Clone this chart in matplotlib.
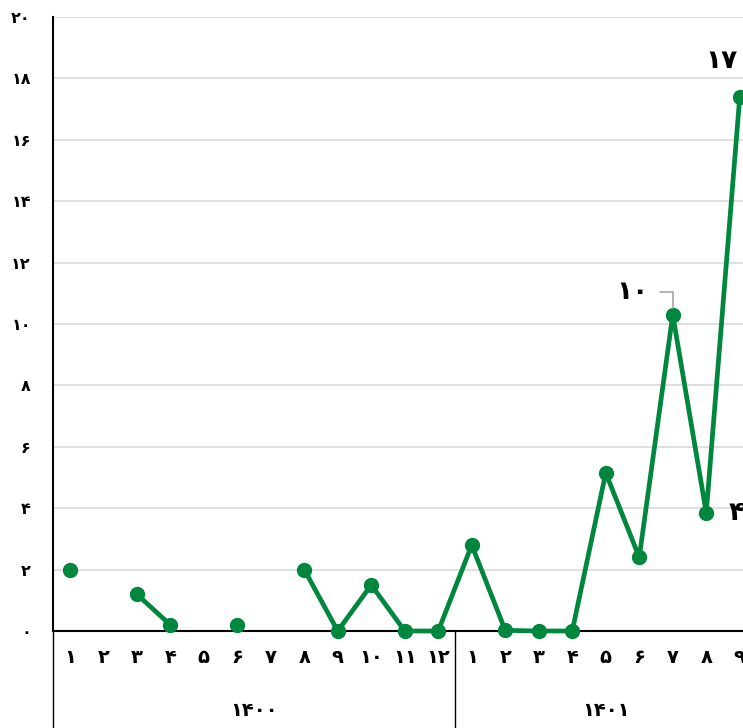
import numpy as np
import matplotlib
matplotlib.use("Agg")
import matplotlib.pyplot as plt

plt.rcParams['font.family'] = ['DejaVu Sans']

# data
months_1400 = ['۱', '۲', '۳', '۴', '۵', '۶', '۷', '۸', '۹', '۱۰', '۱۱', '۱۲']
months_1401 = ['۱', '۲', '۳', '۴', '۵', '۶', '۷', '۸', '۹']
years = ['۱۴۰۰', '۱۴۰۱']
values = [2.0, np.nan, 1.2, 0.2, np.nan, 0.2, np.nan, 2.0, 0.0, 1.5, 0.0, 0.0,
          2.8, 0.02, 0.0, 0.0, 5.15, 2.4, 10.3, 3.85, 17.4]
yticks = [0, 2, 4, 6, 8, 10, 12, 14, 16, 18, 20]
ytick_labels = ['۰', '۲', '۴', '۶', '۸', '۱۰', '۱۲', '۱۴', '۱۶', '۱۸', '۲۰']
# labelled points: index, text, offset (points)
point_labels = [(20, '۱۷', (-13, 26)), (19, '۴', (22, 0))]

green = '#00873e'
x = np.arange(len(values))

fig = plt.figure(figsize=(7.43, 7.28), dpi=100)
ax = fig.add_axes([53 / 743, 97 / 728, 703.5 / 743, 614 / 728])

ax.plot(x, values, color=green, lw=3.4, marker='o', markersize=10,
        solid_capstyle='round', zorder=3, clip_on=False)

ax.set_xlim(-0.5, len(values) - 0.5)
ax.set_ylim(0, 20)
ax.set_yticks(yticks)
ax.set_yticklabels(ytick_labels, fontsize=11.5, fontweight='bold')
ax.yaxis.grid(True, color='#d9d9d9', lw=1.2)
ax.set_axisbelow(True)
ax.tick_params(axis='y', length=0, pad=16)

ax.set_xticks(x)
ax.set_xticklabels(months_1400 + months_1401, fontsize=14, fontweight='bold')
ax.tick_params(axis='x', length=0, pad=12)

for s in ['top', 'right']:
    ax.spines[s].set_visible(False)
ax.spines['left'].set_linewidth(1.5)
ax.spines['bottom'].set_linewidth(1.5)

# category separators below the axis
n1 = len(months_1400)
for xv in [-0.5, n1 - 0.5]:
    ax.axvline(xv, ymin=-0.2, ymax=0, color='black', lw=1.0, clip_on=False)

# year labels
ax.text((n1 - 1) / 2, -2.6, years[0], ha='center', va='center',
        fontsize=14, fontweight='bold')
ax.text(n1 + (len(values) - n1) / 2 - 0.5, -2.6, years[1], ha='center',
        va='center', fontsize=14, fontweight='bold')

# data labels
for i, txt, off in point_labels:
    ax.annotate(txt, (x[i], values[i]), xytext=off, textcoords='offset points',
                ha='center', va='center', fontsize=19, fontweight='bold',
                annotation_clip=False)

ax.annotate('۱۰', (x[18], values[18]), xytext=(16.8, 11.05),
            ha='center', va='center', fontsize=19, fontweight='bold',
            arrowprops=dict(arrowstyle='-', color='#a6a6a6', lw=1.2,
                            connectionstyle='angle,angleA=0,angleB=90,rad=0',
                            shrinkA=6, shrinkB=5))

fig.savefig('out.png', dpi=100)
